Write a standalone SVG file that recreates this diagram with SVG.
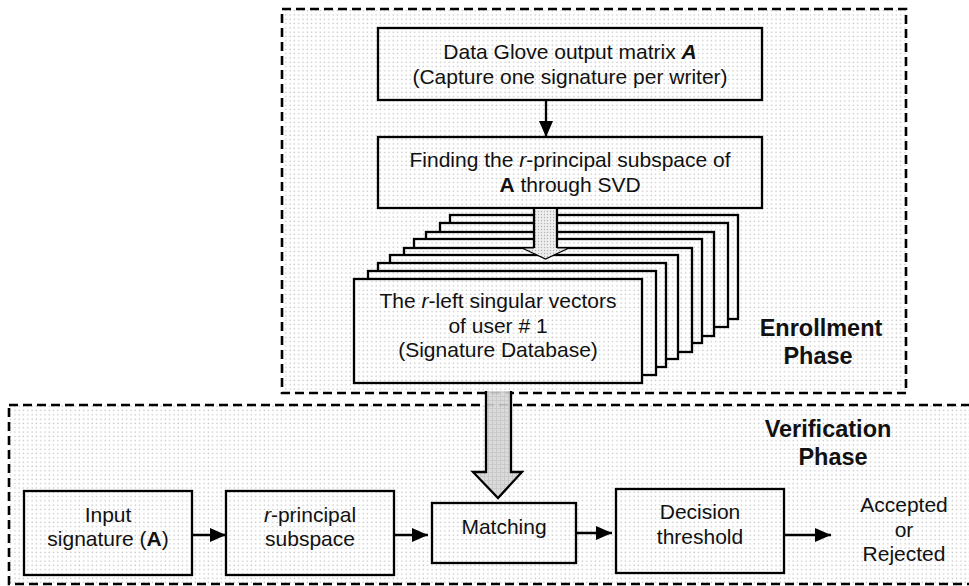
<svg xmlns="http://www.w3.org/2000/svg" width="969" height="586" viewBox="0 0 969 586">
<defs>
<pattern id="dots" x="0" y="0" width="4.3" height="4.3" patternUnits="userSpaceOnUse">
<rect width="4.3" height="4.3" fill="#ffffff"/>
<circle cx="2" cy="2" r="0.75" fill="#c2c2c2"/>
</pattern>
<pattern id="grid" x="0" y="0" width="4" height="4" patternUnits="userSpaceOnUse">
<rect width="4" height="4" fill="#d8d8d8"/>
<path d="M0 0.5H4M0.5 0V4" stroke="#c6c6c6" stroke-width="1"/>
</pattern>
<pattern id="fine" x="0" y="0" width="3" height="3" patternUnits="userSpaceOnUse">
<rect width="3" height="3" fill="#eeeeee"/>
<circle cx="1.5" cy="1.5" r="0.7" fill="#b0b0b0"/>
</pattern>
<marker id="ah2" markerWidth="16" markerHeight="14" refX="16" refY="7" orient="auto" markerUnits="userSpaceOnUse">
<path d="M0 0L16 7L0 14Z" fill="#000"/>
</marker>
</defs>
<style>
.t{font-family:"Liberation Sans",Arial,Helvetica,sans-serif;font-size:21px;fill:#111;text-anchor:middle}
.h{font-family:"Liberation Sans",Arial,Helvetica,sans-serif;font-size:23.5px;font-weight:bold;fill:#111;text-anchor:middle}
.box{fill:url(#dots);stroke:#000;stroke-width:2.3}
.phase{fill:url(#dots);stroke:#000;stroke-width:2.6;stroke-dasharray:9 5}
.conn{stroke:#000;stroke-width:2.3;fill:none}
.i{font-style:italic}
.b{font-weight:bold}
</style>
<rect width="969" height="586" fill="#fff"/>

<g id="enrollment-phase">
<rect class="phase" x="282" y="9" width="624" height="384"/>
<text class="h" x="821" y="336">Enrollment</text>
<text class="h" x="818" y="364">Phase</text>
</g>
<g id="verification-phase">
<rect class="phase" x="9" y="405" width="975" height="179"/>
<text class="h" x="828" y="437">Verification</text>
<text class="h" x="833" y="465">Phase</text>
</g>

<g id="data-glove">
<rect class="box" x="378" y="28" width="384" height="72"/>
<text class="t" x="570" y="59">Data Glove output matrix <tspan class="b i">A</tspan></text>
<text class="t" x="570" y="84">(Capture one signature per writer)</text>
</g>

<g id="svd">
<rect class="box" x="378" y="137" width="384" height="71"/>
<text class="t" x="570" y="167">Finding the <tspan class="i">r</tspan>-principal subspace of</text>
<text class="t" x="570" y="192"><tspan class="b">A</tspan> through SVD</text>
</g>

<g id="signature-database">
<rect class="box" x="450" y="215" width="288" height="104"/>
<rect class="box" x="440" y="223" width="288" height="104"/>
<rect class="box" x="426" y="232" width="288" height="104"/>
<rect class="box" x="414" y="239" width="288" height="104"/>
<rect class="box" x="404" y="248" width="288" height="104"/>
<rect class="box" x="390" y="255" width="288" height="104"/>
<rect class="box" x="378" y="263" width="288" height="104"/>
<rect class="box" x="368" y="271" width="288" height="104"/>
<rect class="box" x="354" y="279" width="288" height="104"/>
<text class="t" x="498" y="308">The <tspan class="i">r</tspan>-left singular vectors</text>
<text class="t" x="498" y="333">of user # 1</text>
<text class="t" x="498" y="357">(Signature Database)</text>
</g>

<g id="input-signature">
<rect class="box" x="24" y="491" width="168" height="84"/>
<text class="t" x="108" y="522">Input</text>
<text class="t" x="108" y="546">signature (<tspan class="b">A</tspan>)</text>
</g>

<g id="r-principal">
<rect class="box" x="226" y="491" width="168" height="84"/>
<text class="t" x="310" y="522"><tspan class="i">r</tspan>-principal</text>
<text class="t" x="310" y="546">subspace</text>
</g>

<g id="matching">
<rect class="box" x="432" y="503" width="144" height="60"/>
<text class="t" x="504" y="534">Matching</text>
</g>

<g id="decision">
<rect class="box" x="616" y="489" width="168" height="84"/>
<text class="t" x="700" y="519">Decision</text>
<text class="t" x="700" y="544">threshold</text>
</g>

<g id="result">
<text class="t" x="904" y="512">Accepted</text>
<text class="t" x="904" y="537">or</text>
<text class="t" x="904" y="561">Rejected</text>
</g>

<g id="connectors">
<line class="conn" x1="546" y1="100" x2="546" y2="137" marker-end="url(#ah2)"/>
<g id="svd-to-database">
<path d="M534 209V248H522L545.5 259L569 248H557V209Z" fill="url(#fine)"/>
<path d="M534 209V248" class="conn"/>
<path d="M557 209V248" class="conn"/>
<path d="M534 248H522L545.5 259L569 248H557" stroke="#000" stroke-width="1.2" fill="none"/>
</g>
<g id="database-to-matching">
<path d="M486 391V472H473L498 498L522 472H511V391Z" fill="url(#grid)" fill-opacity="0.92"/>
<path d="M486 391V472H473L498 498L522 472H511V391" class="conn"/>
</g>
<line class="conn" x1="192" y1="535" x2="226" y2="535" marker-end="url(#ah2)"/>
<line class="conn" x1="394" y1="535" x2="428" y2="535" marker-end="url(#ah2)"/>
<line class="conn" x1="576" y1="533" x2="612" y2="533" marker-end="url(#ah2)"/>
<line class="conn" x1="784" y1="535" x2="831" y2="535" marker-end="url(#ah2)"/>
</g>
</svg>
